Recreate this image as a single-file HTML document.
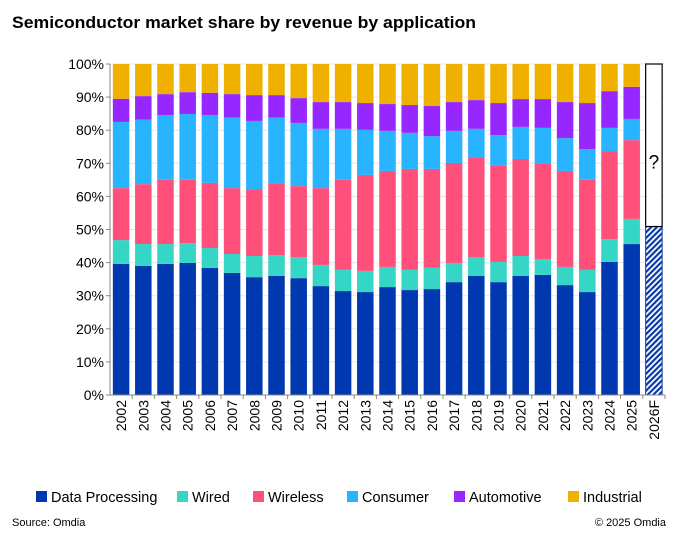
<!DOCTYPE html>
<html><head><meta charset="utf-8"><style>
body{margin:0;background:#fff;font-family:"Liberation Sans",sans-serif}
</style></head><body>
<svg id="c" width="675" height="534" xmlns="http://www.w3.org/2000/svg">
<defs><pattern id="hatch" width="4" height="4" patternUnits="userSpaceOnUse" patternTransform="rotate(45)"><rect width="4" height="4" fill="#fff"/><rect width="2.2" height="4" fill="#0a3aa8"/></pattern></defs>
<text x="12" y="28" font-size="17" font-weight="bold" fill="#000" textLength="464" lengthAdjust="spacingAndGlyphs">Semiconductor market share by revenue by application</text>
<g id="grid"></g><g id="bars"></g><g id="axes"></g>
<g id="legend"></g>
<text x="12" y="526" font-size="11">Source: Omdia</text>
<text x="666" y="526" font-size="11" text-anchor="end">© 2025 Omdia</text>
</svg>
<script>
const years=["2002","2003","2004","2005","2006","2007","2008","2009","2010","2011","2012","2013","2014","2015","2016","2017","2018","2019","2020","2021","2022","2023","2024","2025"];
const dataProcessing=[39.6,39.0,39.6,39.9,38.4,36.9,35.6,36.0,35.3,32.9,31.4,31.1,32.6,31.7,32.0,34.1,36.0,34.1,36.0,36.3,33.2,31.1,40.2,45.6];
const wired=[7.2,6.6,6.0,6.0,6.0,5.7,6.4,6.3,6.4,6.4,6.4,6.4,6.1,6.1,6.4,5.8,5.7,6.1,6.0,4.8,5.5,6.7,6.9,7.6];
const wireless=[15.7,18.1,19.4,19.1,19.7,19.9,20.1,21.7,21.4,23.2,27.2,29.0,29.0,30.5,29.9,30.2,29.9,29.0,29.3,28.7,29.0,27.2,26.6,23.8];
const consumer=[20.0,19.5,19.6,19.9,20.5,21.3,20.7,19.8,19.1,17.9,15.4,13.6,12.1,10.9,9.9,9.7,8.8,9.3,9.7,10.9,9.9,9.3,7.0,6.4];
const automotive=[7.0,7.1,6.3,6.6,6.7,7.1,7.8,6.8,7.5,8.1,8.1,8.1,8.1,8.4,9.1,8.7,8.7,9.7,8.4,8.7,10.9,13.9,11.1,9.7];
const industrial=[10.5,9.7,9.1,8.5,8.7,9.1,9.4,9.4,10.3,11.5,11.5,11.8,12.1,12.4,12.7,11.5,10.9,11.8,10.6,10.6,11.5,11.8,8.2,6.9];
const forecastCat="2026F";
const forecastKnown=50.9;
const yTicks=[0,10,20,30,40,50,60,70,80,90,100];
const seriesNames=["Data Processing","Wired","Wireless","Consumer","Automotive","Industrial"];
const colors=["#0038b0","#35d6c6","#ff4f7b","#28b4ff","#9628ff","#efb000"];
const NS="http://www.w3.org/2000/svg";
const X0=110,X1=665,Y0=395,Y1=64;
const cats=years.concat([forecastCat]);
const band=(X1-X0)/cats.length,bw=16.5;
const y=v=>Y0-(v/100)*(Y0-Y1);
const xc=i=>X0+band*(i+0.5);
function mk(t,a,p){const e=document.createElementNS(NS,t);for(const k in a)e.setAttribute(k,a[k]);(p||document.getElementById("c")).appendChild(e);return e;}
const G=document.getElementById("grid"),B=document.getElementById("bars"),A=document.getElementById("axes"),L=document.getElementById("legend");
yTicks.forEach(t=>{
 const g=mk("line",{x1:X0,x2:X1,y1:y(t),y2:y(t),stroke:"#e6e6e6","stroke-width":1},G);
 
 
 const tk=mk("line",{x1:X0-4,x2:X0,y1:y(t),y2:y(t),stroke:"#888"},A);
 
 
 const tx=mk("text",{x:X0-6,y:y(t)+5,"font-size":14,"text-anchor":"end"},A);
 tx.textContent=t+"%";
 
 
});
const series=[dataProcessing,wired,wireless,consumer,automotive,industrial];
years.forEach((yr,i)=>{
 let cum=0;
 series.forEach((s,k)=>{
  const v=s[i];
  const r=mk("rect",{x:xc(i)-bw/2,y:y(cum+v),width:bw,height:y(cum)-y(cum+v),fill:colors[k]},B);
  
  
  cum+=v;
 });
});
const fi=years.length;
const fr=mk("rect",{x:xc(fi)-bw/2,y:y(forecastKnown),width:bw,height:y(0)-y(forecastKnown),fill:"url(#hatch)",stroke:"#0a3aa8","stroke-width":1},B);


const fu=mk("rect",{x:xc(fi)-bw/2,y:y(100),width:bw,height:y(forecastKnown)-y(100),fill:"#fff",stroke:"#000","stroke-width":1.2},B);


const q=mk("text",{x:xc(fi),y:y(70)+5,"font-size":19,"text-anchor":"middle"},B);
q.textContent="?";


const ax=mk("line",{x1:X0,x2:X0,y1:Y1,y2:Y0,stroke:"#888"},A);


const bx=mk("line",{x1:X0,x2:X1,y1:Y0,y2:Y0,stroke:"#888"},A);


cats.forEach((c,i)=>{
 const tk=mk("line",{x1:X0+band*(i+1),x2:X0+band*(i+1),y1:Y0,y2:Y0+4,stroke:"#888"},A);
 
 
 const t=mk("text",{x:0,y:0,"font-size":14,"text-anchor":"end",transform:`translate(${xc(i)+5},${Y0+5}) rotate(-90)`},A);
 t.textContent=c;
 
 
});
const lx=[36,177,253,347,454,568];
seriesNames.forEach((n,k)=>{
 const r=mk("rect",{x:lx[k],y:491,width:11,height:11,fill:colors[k]},L);
 
 
 const t=mk("text",{x:lx[k]+15,y:502,"font-size":14.5},L);
 t.textContent=n;
 
 
});
</script>
</body></html>
